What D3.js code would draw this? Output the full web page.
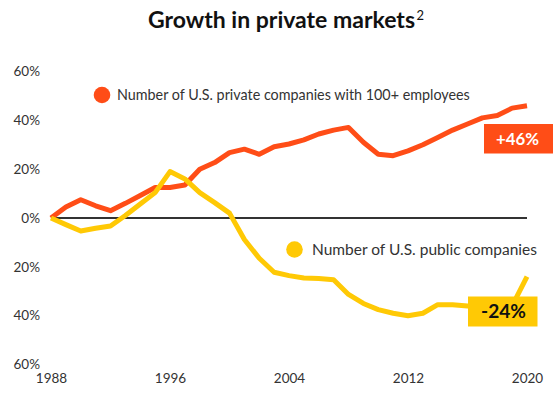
<!DOCTYPE html>
<html>
<head>
<meta charset="utf-8">
<script src="https://cdn.jsdelivr.net/npm/d3@7"></script>
<style>
  body { margin: 0; background: #fff; }
  svg { display: block; font-family: Lato, "Open Sans", sans-serif; }
</style>
</head>
<body>
<div id="chart"></div>
<script>
// chart values
let years = d3.range(1988, 2021);
let privateCos = [0, 4.5, 7.5, 5, 3, 6, 9.2, 12.5, 12.5, 13.5, 20, 22.7, 26.8, 28.2, 26.1, 29.2, 30.3, 32, 34.4, 36, 37.1, 31, 26.1, 25.5, 27.5, 30, 33, 36, 38.5, 41, 42, 45, 46];
let publicCos = [0, -2.7, -5.3, -4.2, -3.3, 1, 5.7, 10.4, 19, 16, 10.4, 6.3, 2, -8.8, -16.5, -22.2, -23.6, -24.6, -24.8, -25.3, -31.3, -35, -37.5, -39, -40, -39, -35.5, -35.5, -36, -36, -36.5, -36, -24];
let yTicks = [60, 40, 20, 0, -20, -40, -60];
let xTicks = [1988, 1996, 2004, 2012, 2020];
let seriesNames = ["Number of U.S. private companies with 100+ employees", "Number of U.S. public companies"];
let endLabels = ["+46%", "-24%"];

let width = 555;
let height = 395;
let red = "#ff4d17";
let gold = "#ffc905";
let ink = "#333333";

let svg = d3.select("#chart")
    .append("svg")
    .attr("width", width)
    .attr("height", height);

let xScale = d3.scaleLinear().domain([1988, 2020]).range([51, 527]);
let yScale = d3.scaleLinear().domain([-60, 60]).range([364.5, 71.5]);

// shrink or grow a text node until it is the width seen in the picture
function fitWidth(sel, target) {
    let size = parseFloat(sel.attr("font-size"));
    let w = sel.node().getComputedTextLength();
    sel.attr("font-size", (size * target / w).toFixed(2));
}

// title
let title = svg.append("text")
    .attr("x", 148)
    .attr("y", 28)
    .attr("font-size", 22)
    .attr("font-weight", 700)
    .attr("fill", "#111")
    .text("Growth in private markets");
fitWidth(title, 267);
svg.append("text")
    .attr("x", 148 + title.node().getComputedTextLength() + 1.5)
    .attr("y", 20)
    .attr("font-size", 13)
    .attr("fill", "#111")
    .text("2");

// y axis labels (picture shows no minus signs)
let yAxis = d3.axisLeft(yScale)
    .tickValues(yTicks)
    .tickSize(0)
    .tickPadding(0)
    .tickFormat(d => Math.abs(d) + "%");
svg.append("g")
    .attr("transform", "translate(40,0)")
    .call(yAxis)
    .call(g => g.select(".domain").remove())
    .selectAll("text")
    .attr("font-family", "Lato, sans-serif")
    .attr("font-size", 13.5)
    .attr("fill", ink);

// x axis labels
let xAxis = d3.axisBottom(xScale)
    .tickValues(xTicks)
    .tickSize(0)
    .tickPadding(0)
    .tickFormat(d3.format("d"));
svg.append("g")
    .attr("transform", "translate(0,373)")
    .call(xAxis)
    .call(g => g.select(".domain").remove())
    .selectAll("text")
    .attr("font-family", "Lato, sans-serif")
    .attr("font-size", 13.5)
    .attr("fill", ink);

// zero line
svg.append("line")
    .attr("x1", xScale(1988))
    .attr("x2", xScale(2020))
    .attr("y1", yScale(0))
    .attr("y2", yScale(0))
    .attr("stroke", "#333")
    .attr("stroke-width", 1.8);

let line = d3.line()
    .x((d, i) => xScale(years[i]))
    .y(d => yScale(d));

svg.append("path")
    .datum(privateCos)
    .attr("d", line)
    .attr("fill", "none")
    .attr("stroke", red)
    .attr("stroke-width", 5)
    .attr("stroke-linejoin", "round");

svg.append("path")
    .datum(publicCos)
    .attr("d", line)
    .attr("fill", "none")
    .attr("stroke", gold)
    .attr("stroke-width", 5)
    .attr("stroke-linejoin", "round");

// legends next to the lines
svg.append("circle").attr("cx", 102).attr("cy", 95).attr("r", 8.3).attr("fill", red);
let leg1 = svg.append("text")
    .attr("x", 117)
    .attr("y", 100)
    .attr("font-size", 14.5)
    .attr("fill", ink)
    .text(seriesNames[0]);
fitWidth(leg1, 353);

svg.append("circle").attr("cx", 294.5).attr("cy", 249.5).attr("r", 8.3).attr("fill", gold);
let leg2 = svg.append("text")
    .attr("x", 312)
    .attr("y", 255)
    .attr("font-size", 14.5)
    .attr("fill", ink)
    .text(seriesNames[1]);
fitWidth(leg2, 225);

// end value boxes
svg.append("rect").attr("x", 484).attr("y", 124).attr("width", 69).attr("height", 29.5).attr("fill", red);
let lab1 = svg.append("text")
    .attr("x", 517.5)
    .attr("y", 144.5)
    .attr("text-anchor", "middle")
    .attr("font-size", 16)
    .attr("font-weight", 700)
    .attr("fill", "#fff")
    .text(endLabels[0]);
fitWidth(lab1, 43);

svg.append("rect").attr("x", 468).attr("y", 296.5).attr("width", 69.5).attr("height", 30).attr("fill", gold);
let lab2 = svg.append("text")
    .attr("x", 503.5)
    .attr("y", 317.5)
    .attr("text-anchor", "middle")
    .attr("font-size", 17)
    .attr("font-weight", 700)
    .attr("fill", "#111")
    .text(endLabels[1]);
fitWidth(lab2, 45);
</script>
</body>
</html>
